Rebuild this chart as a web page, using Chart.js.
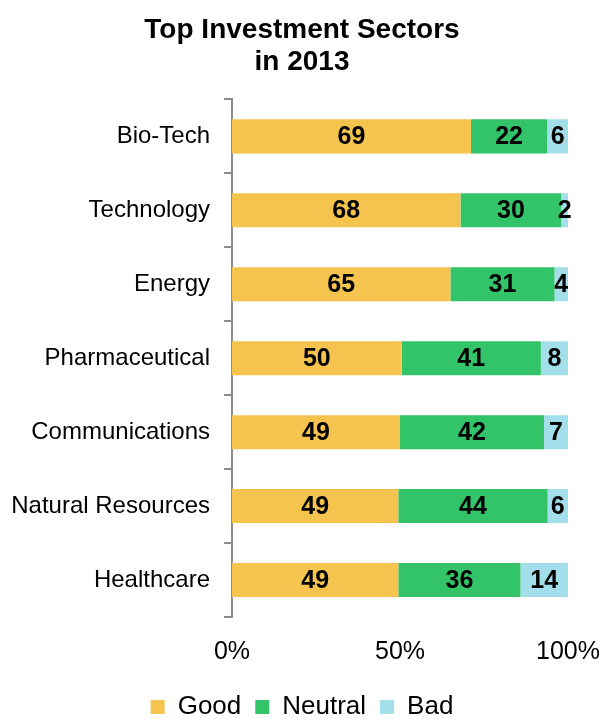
<!DOCTYPE html>
<html>
<head>
<meta charset="utf-8">
<script src="https://cdn.jsdelivr.net/npm/chart.js@4/dist/chart.umd.min.js"></script>
<style>
  html, body { margin: 0; padding: 0; background: #fff; }
  #wrap { width: 604px; height: 719px; }
</style>
</head>
<body>
<div id="wrap"><canvas id="myChart" width="604" height="719"></canvas></div>
<script>
// datos
const sectors = ['Bio-Tech', 'Technology', 'Energy', 'Pharmaceutical', 'Communications', 'Natural Resources', 'Healthcare'];
const good = [69, 68, 65, 50, 49, 49, 49];
const neutral = [22, 30, 31, 41, 42, 44, 36];
const bad = [6, 2, 4, 8, 7, 6, 14];
const xTicks = ['0%', '50%', '100%'];

// cada barra se muestra al 100%
function toPercent(arr) {
    return arr.map((v, i) => v / (good[i] + neutral[i] + bad[i]) * 100);
}

const FONT = 'Liberation Sans, Arial, sans-serif';

// números dentro de cada segmento
const valueLabels = {
    id: 'valueLabels',
    afterDatasetsDraw(chart) {
        const ctx = chart.ctx;
        ctx.save();
        ctx.font = 'bold 25px ' + FONT;
        ctx.fillStyle = '#000';
        ctx.textAlign = 'center';
        ctx.textBaseline = 'middle';
        chart.data.datasets.forEach((ds, di) => {
            const meta = chart.getDatasetMeta(di);
            meta.data.forEach((bar, i) => {
                const p = bar.getProps(['x', 'y', 'base'], true);
                const cx = (p.x + p.base) / 2;
                ctx.fillText(String(ds.raw[i]), cx, p.y + 1);
            });
        });
        ctx.restore();
    }
};

// bajar la leyenda hacia el borde inferior
const legendNudge = {
    id: 'legendNudge',
    beforeLayout(chart) {
        const lg = chart.legend;
        if (lg && !lg._nudged) {
            const fit = lg.fit;
            lg.fit = function () { fit.call(this); this.height -= 11; };
            lg._nudged = true;
        }
    }
};

const ctx = document.getElementById('myChart').getContext('2d');
const myChart = new Chart(ctx, {
    type: 'bar',
    data: {
        labels: sectors,
        datasets: [
            { label: 'Good', raw: good, data: toPercent(good), backgroundColor: '#F5C44E' },
            { label: 'Neutral', raw: neutral, data: toPercent(neutral), backgroundColor: '#33C46A' },
            { label: 'Bad', raw: bad, data: toPercent(bad), backgroundColor: '#A2DFEB' }
        ]
    },
    options: {
        indexAxis: 'y',
        responsive: false,
        animation: false,
        barPercentage: 0.92,
        categoryPercentage: 0.5,
        layout: { padding: { top: 14, right: 0, bottom: 0, left: 0 } },
        plugins: {
            title: {
                display: true,
                text: ['Top Investment Sectors', 'in 2013'],
                color: '#000',
                font: { family: FONT, size: 28, weight: 'bold', lineHeight: 1.15 },
                padding: { top: 0, bottom: 21 }
            },
            legend: {
                position: 'bottom',
                labels: {
                    color: '#000',
                    boxWidth: 14,
                    boxHeight: 14,
                    padding: 14,
                    font: { family: FONT, size: 26 }
                }
            },
            tooltip: { enabled: false }
        },
        scales: {
            x: {
                stacked: true,
                min: 0,
                max: 100,
                border: { display: false },
                grid: { display: false },
                ticks: {
                    stepSize: 50,
                    color: '#000',
                    padding: 12,
                    font: { family: FONT, size: 25 },
                    callback: function (v) { return xTicks[v / 50]; }
                },
                afterFit: function (s) {
                    s.paddingRight = 36;
                    s.paddingLeft = 0;
                    s.height += 1;
                }
            },
            y: {
                stacked: true,
                border: { display: true, color: '#8c8c8c', width: 2 },
                grid: { drawOnChartArea: false, color: '#8c8c8c', lineWidth: 2, tickLength: 8 },
                ticks: {
                    color: '#000',
                    padding: 14,
                    font: { family: FONT, size: 24 }
                },
                afterFit: function (s) { s.width = 232; }
            }
        }
    },
    plugins: [valueLabels, legendNudge]
});
</script>
</body>
</html>
